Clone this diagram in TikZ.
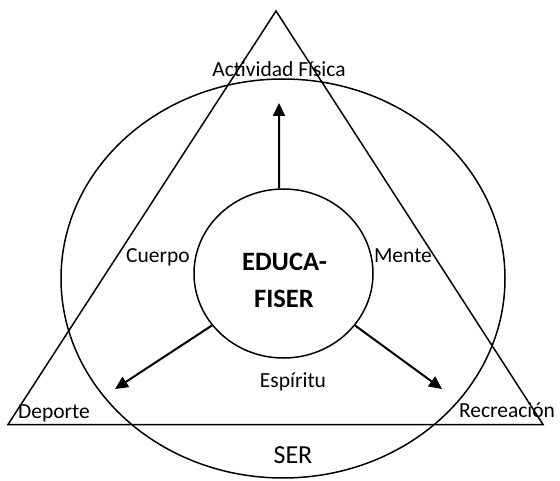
\documentclass[tikz,border=0pt]{standalone}
\usepackage{fontspec}
\setmainfont{Carlito}
\usetikzlibrary{arrows.meta,shapes.geometric}
\begin{document}
\begin{tikzpicture}[x=1pt,y=-1pt,
  line width=1.5pt,
  lbl/.style={anchor=base,inner sep=0pt,font=\fontsize{21.5}{24}\selectfont},
  big/.style={anchor=base,inner sep=0pt,font=\fontsize{26}{30}\selectfont},
  ttl/.style={anchor=base,inner sep=0pt,font=\fontsize{26.5}{30}\selectfont\bfseries},
  arr/.style={-{Triangle[length=13pt,width=12pt]},line width=2pt}]
\useasboundingbox (0,0) rectangle (560,481);
% triangle
\coordinate (apex) at (276,11);
\coordinate (bl) at (8,424.5);
\coordinate (br) at (543,424.5);
\draw (apex) -- (bl) -- (br) -- cycle;
% outer ellipse
\node[draw,ellipse,inner sep=0pt,minimum width=444pt,minimum height=399pt] (outer) at (283,278.5) {};
% inner circle
\node[draw,ellipse,inner sep=0pt,minimum width=179pt,minimum height=169pt] (inner) at (283.5,273.5) {};
% arrows
\coordinate (tipU) at (279,103);
\coordinate (tipL) at (115,389);
\coordinate (tipR) at (442,389);
\draw[arr] (inner.93) -- (tipU);
\draw[arr] (inner.216) -- (tipL);
\draw[arr] (inner.-36) -- (tipR);
% labels
\node[lbl] (af) at (279,77) {Actividad Física};
\node[lbl] (cu) at (158,263) {Cuerpo};
\node[lbl] (me) at (403,263) {Mente};
\node[lbl] (es) at (293,387) {Espíritu};
\node[lbl] (de) at (54,418) {Deporte};
\node[lbl] (re) at (507,417) {Recreación};
\node[big] (ser) at (293,463) {SER};
\node[ttl] (t1) at (284.5,271) {EDUCA-};
\node[ttl] (t2) at (284,308) {FISER};
\end{tikzpicture}
\end{document}
